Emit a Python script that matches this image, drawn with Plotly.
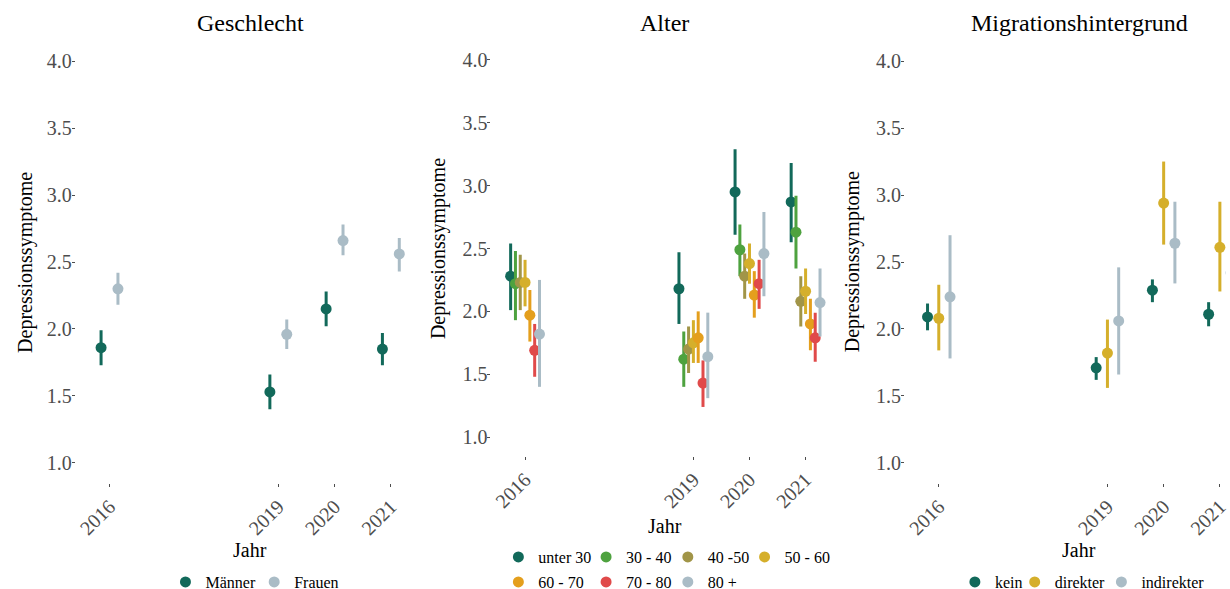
import plotly.graph_objects as go

# ---------------- data ----------------
years = [2016, 2019, 2020, 2021]
year_labels = ["2016", "2019", "2020", "2021"]
y_ticks = [1.0, 1.5, 2.0, 2.5, 3.0, 3.5, 4.0]
y_tick_labels = ["1.0", "1.5", "2.0", "2.5", "3.0", "3.5", "4.0"]

panel_titles = ["Geschlecht", "Alter", "Migrationshintergrund"]
y_title = "Depressionssymptome"
x_title = "Jahr"

sex_groups = ["Männer", "Frauen"]
sex_mean = [[1.86, 1.53, 2.15, 1.85], [2.30, 1.96, 2.66, 2.56]]
sex_lo = [[1.73, 1.40, 2.02, 1.73], [2.18, 1.85, 2.55, 2.43]]
sex_hi = [[1.99, 1.66, 2.28, 1.97], [2.42, 2.07, 2.78, 2.68]]

age_groups = ["unter 30", "30 - 40", "40 -50", "50 - 60", "60 - 70", "70 - 80", "80 +"]
age_mean = [
    [2.28, 2.18, 2.95, 2.87],
    [2.22, 1.62, 2.49, 2.63],
    [2.23, 1.70, 2.28, 2.08],
    [2.23, 1.75, 2.38, 2.16],
    [1.97, 1.79, 2.13, 1.90],
    [1.69, 1.43, 2.22, 1.79],
    [1.82, 1.64, 2.46, 2.07],
]
age_lo = [
    [2.01, 1.90, 2.61, 2.55],
    [1.93, 1.40, 2.28, 2.34],
    [2.01, 1.51, 2.10, 1.88],
    [2.04, 1.59, 2.22, 1.98],
    [1.76, 1.59, 1.95, 1.69],
    [1.48, 1.24, 2.02, 1.60],
    [1.40, 1.31, 2.12, 1.80],
]
age_hi = [
    [2.54, 2.47, 3.29, 3.18],
    [2.48, 1.84, 2.69, 2.92],
    [2.45, 1.88, 2.46, 2.28],
    [2.41, 1.93, 2.54, 2.34],
    [2.17, 2.00, 2.32, 2.10],
    [1.90, 1.61, 2.41, 1.99],
    [2.25, 1.99, 2.79, 2.34],
]

mig_groups = ["kein", "direkter", "indirekter"]
mig_mean = [[2.09, 1.71, 2.29, 2.11], [2.08, 1.82, 2.94, 2.61], [2.24, 2.06, 2.64, 2.42]]
mig_lo = [[1.99, 1.62, 2.20, 2.02], [1.84, 1.56, 2.63, 2.28], [1.78, 1.66, 2.34, 2.22]]
mig_hi = [[2.19, 1.79, 2.37, 2.20], [2.33, 2.07, 3.25, 2.95], [2.70, 2.46, 2.95, 2.62]]

# ---------------- styling ----------------
W, H = 1230, 620   # page viewport is 589 high; extra height lies below the photo
FONT = "Liberation Serif, Times New Roman, serif"
DARK = "#12695a"
GREY = "#aabcc6"
sex_colors = [DARK, GREY]
age_colors = [DARK, "#4ea23f", "#a19548", "#d5af2b", "#e49f1d", "#e04a4a", GREY]
mig_colors = [DARK, "#d5af2b", GREY]

DODGE = 0.6

# panel geometry in pixels (measured from top-left)
panels = [
    dict(x0=76, x1=426, y0=41, y1=483, xr=[2015.4, 2021.6], cx=251, ytx=25, jy=550),
    dict(x0=493, x1=842, y0=41, y1=456, xr=[2015.4, 2021.6], cx=667, ytx=440, jy=526),
    dict(x0=908, x1=1230, y0=41, y1=483, xr=[2015.4, 2021.109], cx=1083, ytx=855, jy=550),
]
# legend marker centres (px) for each panel's items
legend_pos = [
    [(186, 582), (275, 582)],
    [(520, 557), (608, 557), (690, 557), (767, 557), (520, 582), (608, 582), (690, 582)],
    [(978, 582), (1038, 582), (1125, 582)],
]
LEG_OFF_X = 20

datasets = [
    (sex_groups, sex_mean, sex_lo, sex_hi, sex_colors),
    (age_groups, age_mean, age_lo, age_hi, age_colors),
    (mig_groups, mig_mean, mig_lo, mig_hi, mig_colors),
]

fig = go.Figure()
layout = dict(
    width=W, height=H,
    margin=dict(l=0, r=0, t=0, b=0),
    paper_bgcolor="white", plot_bgcolor="white",
    font=dict(family=FONT, color="black"),
    annotations=[],
)

leg_idx = 0
for p, (groups, mean, lo, hi, colors) in enumerate(datasets):
    ax = "" if p == 0 else str(p + 1)
    n = len(groups)
    for i, g in enumerate(groups):
        off = (i - (n - 1) / 2) * DODGE / n
        xs = [y + off for y in years]
        leg_idx += 1
        lname = "legend" if leg_idx == 1 else f"legend{leg_idx}"
        fig.add_trace(go.Scatter(
            x=xs, y=mean[i], mode="markers", name=g,
            marker=dict(size=11, color=colors[i]),
            error_y=dict(type="data", symmetric=False,
                         array=[h - m for h, m in zip(hi[i], mean[i])],
                         arrayminus=[m - l for m, l in zip(mean[i], lo[i])],
                         width=0, thickness=3, color=colors[i]),
            xaxis="x" + ax, yaxis="y" + ax, legend=lname, showlegend=True,
            hoverinfo="skip",
        ))
        mx, my = legend_pos[p][i]
        layout[lname] = dict(
            x=(mx - LEG_OFF_X) / W, xanchor="left",
            y=(H - my) / H, yanchor="middle",
            orientation="h", bgcolor="rgba(0,0,0,0)",
            font=dict(family=FONT, size=16, color="black"),
            itemwidth=30, borderwidth=0,
        )

    g = panels[p]
    layout["xaxis" + ax] = dict(
        domain=[g["x0"] / W, g["x1"] / W], range=g["xr"], anchor="y" + ax,
        tickmode="array", tickvals=years, ticktext=year_labels, tickangle=-45,
        ticks="outside", ticklen=3, tickwidth=1, tickcolor="#4d4d4d",
        ticklabeloverflow="allow",
        tickfont=dict(family=FONT, size=20, color="#4d4d4d"),
        showgrid=False, zeroline=False, showline=False,
    )
    layout["yaxis" + ax] = dict(
        domain=[(H - g["y1"]) / H, (H - g["y0"]) / H], range=[0.85, 4.15], anchor="x" + ax,
        tickmode="array", tickvals=y_ticks, ticktext=y_tick_labels,
        ticks="outside", ticklen=3, tickwidth=1, tickcolor="#4d4d4d",
        ticklabelstandoff=-4,
        tickfont=dict(family=FONT, size=20, color="#4d4d4d"),
        showgrid=False, zeroline=False, showline=False,
    )
    layout["annotations"] += [
        dict(text=panel_titles[p], x=g["cx"] / W, y=(H - 23) / H, xref="paper", yref="paper",
             showarrow=False, xanchor="center", yanchor="middle",
             font=dict(family=FONT, size=24, color="black")),
        dict(text=x_title, x=g["cx"] / W, y=(H - g["jy"]) / H, xref="paper", yref="paper",
             showarrow=False, xanchor="center", yanchor="middle",
             font=dict(family=FONT, size=20, color="black")),
        dict(text=y_title, x=g["ytx"] / W, y=(H - (g["y0"] + g["y1"]) / 2) / H,
             xref="paper", yref="paper", textangle=-90,
             showarrow=False, xanchor="center", yanchor="middle",
             font=dict(family=FONT, size=20, color="black")),
    ]

fig.update_layout(**layout)
fig.write_html(
    "out.html",
    config={"displayModeBar": False},
    post_script=(
        "document.body.style.margin='0';document.body.style.padding='0';"
        "document.body.style.overflow='hidden';"
        "document.documentElement.style.overflow='hidden';"
    ),
)
